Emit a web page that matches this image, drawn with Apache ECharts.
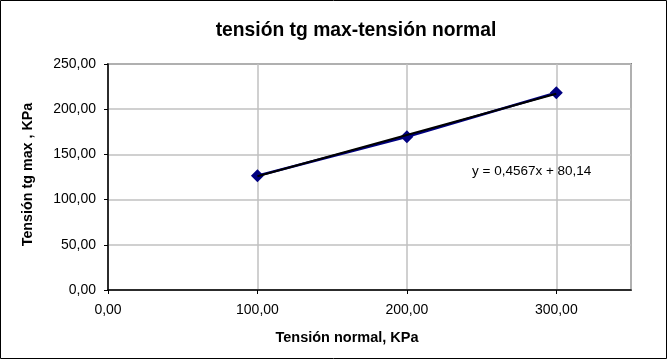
<!DOCTYPE html>
<html>
<head>
<meta charset="utf-8">
<script src="https://cdn.jsdelivr.net/npm/echarts@6/dist/echarts.min.js"></script>
<style>html,body{margin:0;padding:0;background:#fff}#c{width:668px;height:360px}</style>
</head>
<body>
<div id="c"></div>
<script>
var xValues = [100, 200, 300];
var yValues = [126.4, 169.6, 218.2];
var trendSlope = 0.4567;
var trendIntercept = 80.14;
var titleText = 'tensión tg max-tensión normal';
var xName = 'Tensión normal, KPa';
var yName = 'Tensión tg max , KPa';
var eqText = 'y = 0,4567x + 80,14';

var dataPts = xValues.map(function (x, i) { return [x, yValues[i]]; });
var trendPts = xValues.map(function (x) { return [x, trendSlope * x + trendIntercept]; });
function fmt(v) { return v.toFixed(2).replace('.', ','); }

var chart = echarts.init(document.getElementById('c'), null, { renderer: 'canvas' });
var font = 'Liberation Sans, Arial, sans-serif';
chart.setOption({
  animation: false,
  backgroundColor: '#fff',
  grid: { left: 108, right: 37, top: 64, bottom: 70, show: true, borderColor: '#808080', borderWidth: 2, backgroundColor: '#fff' },
  xAxis: {
    type: 'value', min: 0, max: 350, interval: 100,
    axisLine: { show: true, onZero: false, lineStyle: { color: '#000', width: 1.5 } },
    axisTick: { show: true, length: 4, lineStyle: { color: '#000' } },
    axisLabel: { fontFamily: font, fontSize: 14, color: '#000', margin: 13, formatter: fmt, showMaxLabel: false },
    splitLine: { show: true, lineStyle: { color: '#c0c0c0', width: 1.5 } }
  },
  yAxis: {
    type: 'value', min: 0, max: 250, interval: 50,
    axisLine: { show: true, lineStyle: { color: '#000', width: 1.5 } },
    axisTick: { show: true, length: 4, lineStyle: { color: '#000' } },
    axisLabel: { fontFamily: font, fontSize: 14, color: '#000', margin: 12, formatter: fmt },
    splitLine: { show: true, lineStyle: { color: '#c0c0c0', width: 1.5 } }
  },
  series: [
    {
      type: 'line', data: dataPts, symbol: 'diamond', symbolSize: 13,
      lineStyle: { color: '#000080', width: 2.5 }, itemStyle: { color: '#000080' }, z: 2
    },
    {
      type: 'line', data: trendPts, symbol: 'none',
      lineStyle: { color: '#000', width: 2 }, z: 3
    }
  ],
  graphic: [
    { type: 'rect', shape: { x: 0.5, y: 0.5, width: 666, height: 358 }, style: { fill: null, stroke: '#000', lineWidth: 1 }, z: 100 },
    { type: 'text', x: 356, y: 30.5, style: { text: titleText, font: 'bold 19.3px ' + font, fill: '#000', textAlign: 'center', textVerticalAlign: 'middle' } },
    { type: 'text', x: 472, y: 171.3, style: { text: eqText, font: '13.5px ' + font, fill: '#000', textVerticalAlign: 'middle' } },
    { type: 'text', x: 347, y: 338, style: { text: xName, font: 'bold 14.5px ' + font, fill: '#000', textAlign: 'center', textVerticalAlign: 'middle' } },
    { type: 'text', x: 28, y: 174.5, rotation: Math.PI / 2, style: { text: yName, font: 'bold 14.3px ' + font, fill: '#000', textAlign: 'center', textVerticalAlign: 'middle' } }
  ]
});
</script>
</body>
</html>
